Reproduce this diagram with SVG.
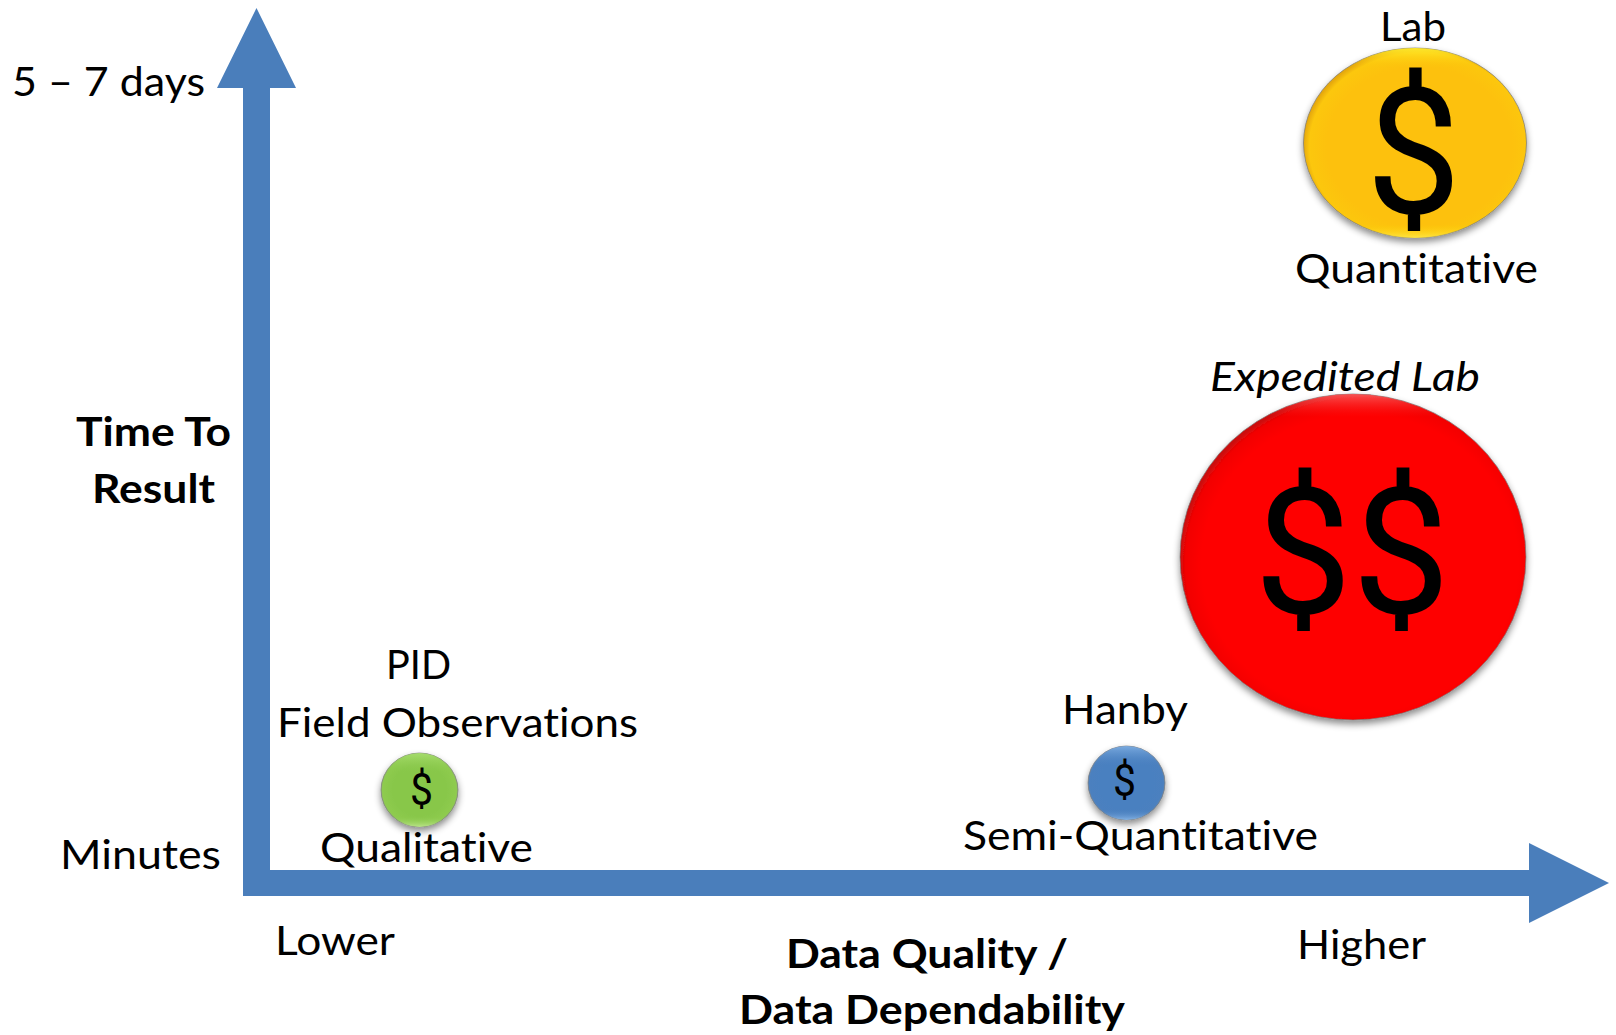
<svg xmlns="http://www.w3.org/2000/svg" width="1616" height="1035" viewBox="0 0 1616 1035">
<style>
text{font-family:"Lato","Carlito","Liberation Sans",sans-serif;font-size:41px;fill:#000;font-variant-ligatures:none}
.b{font-weight:700}
.i{font-style:italic}
.d{font-family:"Roboto","Liberation Sans",sans-serif}
.big{font-size:177px}
.small{font-size:44px}
.arrow{fill:#4a7ebb}
.rim{stroke:#777;stroke-width:1;stroke-opacity:.7}
</style>
<defs>
<filter id="sh" x="-15%" y="-15%" width="130%" height="130%"><feDropShadow dx="0" dy="4" stdDeviation="3.500" flood-color="#000" flood-opacity=".45"/></filter>
<radialGradient id="gy" cx=".52" cy=".52" r=".52"><stop offset=".8" stop-color="#fdc107"/><stop offset=".95" stop-color="#fcc70c"/><stop offset="1" stop-color="#e6a90c"/></radialGradient>
<linearGradient id="gy2" x1="0" y1="0" x2="0" y2="1"><stop offset="0" stop-color="#fff030" stop-opacity=".9"/><stop offset=".1" stop-color="#ffcc0a" stop-opacity="0"/><stop offset=".93" stop-color="#ffd400" stop-opacity="0"/><stop offset="1" stop-color="#ffec50" stop-opacity=".8"/></linearGradient>
<radialGradient id="gr" cx=".52" cy=".52" r=".52"><stop offset=".88" stop-color="#fe0404"/><stop offset=".97" stop-color="#f20404"/><stop offset="1" stop-color="#cc0a0a"/></radialGradient>
<linearGradient id="gr2" x1="0" y1="0" x2="0" y2="1"><stop offset="0" stop-color="#ff6060" stop-opacity=".85"/><stop offset=".07" stop-color="#ff2020" stop-opacity="0"/><stop offset="1" stop-color="#ff0000" stop-opacity="0"/></linearGradient>
<radialGradient id="gg" cx=".5" cy=".5" r=".5"><stop offset=".7" stop-color="#88c74a"/><stop offset=".95" stop-color="#8ecb4e"/><stop offset="1" stop-color="#8fbf60"/></radialGradient>
<linearGradient id="gg2" x1="0" y1="0" x2="0" y2="1"><stop offset="0" stop-color="#a8de70" stop-opacity=".9"/><stop offset=".28" stop-color="#88c74a" stop-opacity="0"/><stop offset=".85" stop-color="#88c74a" stop-opacity="0"/><stop offset="1" stop-color="#c0e890" stop-opacity=".9"/></linearGradient>
<radialGradient id="gb" cx=".5" cy=".5" r=".5"><stop offset=".7" stop-color="#4a80c0"/><stop offset=".95" stop-color="#4b80bf"/><stop offset="1" stop-color="#5a86b8"/></radialGradient>
<linearGradient id="gb2" x1="0" y1="0" x2="0" y2="1"><stop offset="0" stop-color="#80b0e4" stop-opacity=".9"/><stop offset=".28" stop-color="#4a80c0" stop-opacity="0"/><stop offset=".85" stop-color="#4a80c0" stop-opacity="0"/><stop offset="1" stop-color="#8ab8e8" stop-opacity=".9"/></linearGradient>
</defs>
<rect width="1616" height="1035" fill="#fff"/>

<g id="connectors">
<polygon id="y-axis" class="arrow" points="256.500,8 296,88 270,88 270,896 243,896 243,88 217,88"/>
<polygon id="x-axis" class="arrow" points="243,870 1529,870 1529,843 1609,883 1529,923 1529,896 243,896"/>
</g>

<g id="node-lab">
<ellipse cx="1415" cy="143" rx="111.500" ry="95" fill="url(#gy)" class="rim" filter="url(#sh)"/>
<ellipse cx="1415" cy="143" rx="111.500" ry="95" fill="url(#gy2)"/>
<text x="1380" y="41" textLength="66" lengthAdjust="spacingAndGlyphs">Lab</text>
<text x="1295" y="283" textLength="243" lengthAdjust="spacingAndGlyphs">Quantitative</text>
<text class="d big" x="1366" y="213" textLength="95" lengthAdjust="spacingAndGlyphs">$</text>
</g>

<g id="node-expedited-lab">
<ellipse cx="1353" cy="557" rx="173" ry="163" fill="url(#gr)" class="rim" filter="url(#sh)"/>
<ellipse cx="1353" cy="557" rx="173" ry="163" fill="url(#gr2)"/>
<text class="i" x="1210" y="391" textLength="270" lengthAdjust="spacingAndGlyphs">Expedited Lab</text>
<text class="d big" x="1254" y="613" textLength="196" lengthAdjust="spacingAndGlyphs">$$</text>
</g>

<g id="node-field">
<ellipse cx="419.500" cy="790" rx="38.500" ry="37" fill="url(#gg)" class="rim" filter="url(#sh)"/>
<ellipse cx="419.500" cy="790" rx="38.500" ry="37" fill="url(#gg2)"/>
<text x="386" y="679" textLength="65" lengthAdjust="spacingAndGlyphs">PID</text>
<text x="277" y="737" textLength="361" lengthAdjust="spacingAndGlyphs">Field Observations</text>
<text x="320" y="862" textLength="213" lengthAdjust="spacingAndGlyphs">Qualitative</text>
<text class="d small" x="410" y="805" textLength="23" lengthAdjust="spacingAndGlyphs">$</text>
</g>

<g id="node-hanby">
<ellipse cx="1126.500" cy="783" rx="38.500" ry="37" fill="url(#gb)" class="rim" filter="url(#sh)"/>
<ellipse cx="1126.500" cy="783" rx="38.500" ry="37" fill="url(#gb2)"/>
<text x="1062" y="724" textLength="126" lengthAdjust="spacingAndGlyphs">Hanby</text>
<text x="963" y="850" textLength="355" lengthAdjust="spacingAndGlyphs">Semi-Quantitative</text>
<text class="d small" x="1113" y="796" textLength="23" lengthAdjust="spacingAndGlyphs">$</text>
</g>

<g id="axis-labels">
<text x="12" y="96" textLength="193" lengthAdjust="spacingAndGlyphs">5 – 7 days</text>
<text x="60" y="869" textLength="161" lengthAdjust="spacingAndGlyphs">Minutes</text>
<text class="b" x="76" y="446" textLength="155" lengthAdjust="spacingAndGlyphs">Time To</text>
<text class="b" x="92" y="503" textLength="123" lengthAdjust="spacingAndGlyphs">Result</text>
<text x="275" y="955" textLength="120" lengthAdjust="spacingAndGlyphs">Lower</text>
<text x="1297" y="959" textLength="129" lengthAdjust="spacingAndGlyphs">Higher</text>
<text class="b" x="786" y="968" textLength="282" lengthAdjust="spacingAndGlyphs">Data Quality /</text>
<text class="b" x="739" y="1024" textLength="386" lengthAdjust="spacingAndGlyphs">Data Dependability</text>
</g>
</svg>
